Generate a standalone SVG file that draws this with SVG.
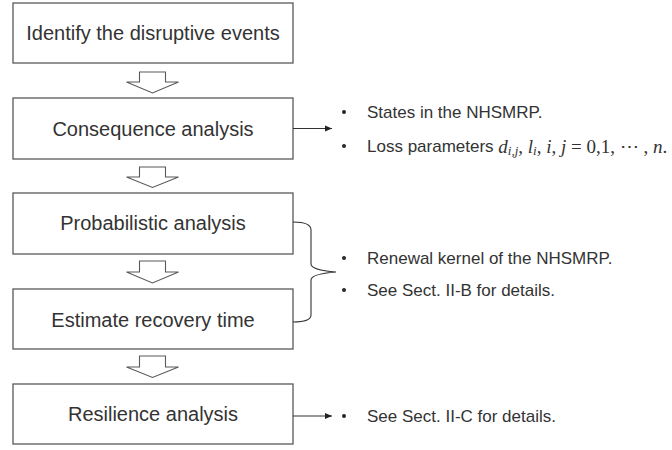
<svg xmlns="http://www.w3.org/2000/svg" width="672" height="450" viewBox="0 0 672 450">
<style>
.box{fill:#fff;stroke:#595959;stroke-width:1.3}
.lbl{font-family:"Liberation Sans",Arial,sans-serif;font-size:20px;fill:#333;text-anchor:middle;dominant-baseline:central}
.note{font-family:"Liberation Sans",Arial,sans-serif;font-size:17px;fill:#333;dominant-baseline:central}
.m{font-family:"Liberation Serif","Times New Roman",serif;font-style:italic;font-size:19px}
.mr{font-family:"Liberation Serif","Times New Roman",serif;font-size:19px}
.sub{font-family:"Liberation Serif","Times New Roman",serif;font-style:italic;font-size:13px}
.hol{fill:#fff;stroke:#595959;stroke-width:1.1}
.ln{fill:none;stroke:#333;stroke-width:1.1}
.dot{fill:#262626}
</style>
<defs>
<marker id="ah" markerWidth="8" markerHeight="8" refX="7" refY="4" orient="auto" markerUnits="userSpaceOnUse">
<path d="M0,1 L7,4 L0,7 Z" fill="#222"/>
</marker>
</defs>
<g id="n1"><rect class="box" x="13" y="3" width="280" height="60"/><text class="lbl" x="153" y="33">Identify the disruptive events</text></g>
<g id="n2"><rect class="box" x="13" y="98" width="280" height="61"/><text class="lbl" x="153" y="129">Consequence analysis</text></g>
<g id="n3"><rect class="box" x="13" y="193" width="280" height="61"/><text class="lbl" x="153" y="223">Probabilistic analysis</text></g>
<g id="n4"><rect class="box" x="13" y="289" width="280" height="60"/><text class="lbl" x="153" y="320">Estimate recovery time</text></g>
<g id="n5"><rect class="box" x="13" y="384" width="280" height="60"/><text class="lbl" x="153" y="414">Resilience analysis</text></g>
<g id="connectors">
<path class="hol" d="M139.5,72 H165.5 V82 H178.5 L152.5,93 L126.5,82 H139.5 Z"/>
<path class="hol" d="M139.5,167 H165.5 V177 H178.5 L152.5,187.5 L126.5,177 H139.5 Z"/>
<path class="hol" d="M139.5,261 H165.5 V272 H178.5 L152.5,283 L126.5,272 H139.5 Z"/>
<path class="hol" d="M139.5,356 H165.5 V367 H178.5 L152.5,377.5 L126.5,367 H139.5 Z"/>
<line class="ln" x1="293" y1="128.5" x2="332" y2="128.5" marker-end="url(#ah)"/>
<line class="ln" x1="293" y1="416" x2="332" y2="416" marker-end="url(#ah)"/>
<path class="ln" d="M293,222 Q311,222 311,230 V264 Q311,270 336,272 Q311,274 311,280 V315 Q311,322 293,322"/>
</g>
<g id="notes">
<circle class="dot" cx="344" cy="112" r="2"/>
<text class="note" x="367" y="112">States in the NHSMRP.</text>
<circle class="dot" cx="344" cy="146" r="2"/>
<text class="note" x="367" y="146">Loss parameters <tspan class="m">d</tspan><tspan class="sub" dy="4">i,j</tspan><tspan class="mr" dy="-4">, </tspan><tspan class="m">l</tspan><tspan class="sub" dy="4">i</tspan><tspan class="mr" dy="-4">, </tspan><tspan class="m">i</tspan><tspan class="mr">, </tspan><tspan class="m">j</tspan><tspan class="mr"> = 0,1, ⋯ , </tspan><tspan class="m">n</tspan><tspan class="mr">.</tspan></text>
<circle class="dot" cx="344" cy="258" r="2"/>
<text class="note" x="367" y="258">Renewal kernel of the NHSMRP.</text>
<circle class="dot" cx="344" cy="290" r="2"/>
<text class="note" x="367" y="290">See Sect. II-B for details.</text>
<circle class="dot" cx="344" cy="416" r="2"/>
<text class="note" x="367" y="416">See Sect. II-C for details.</text>
</g>
</svg>
